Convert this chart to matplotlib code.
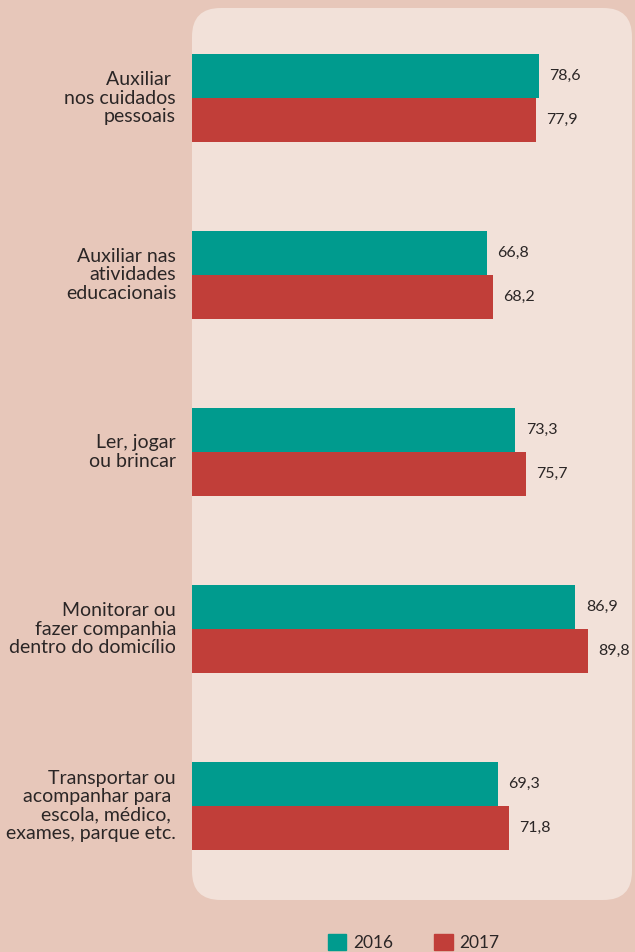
import matplotlib.pyplot as plt
from matplotlib.patches import FancyBboxPatch, Patch

# data
categories = ['Auxiliar \nnos cuidados\npessoais',
              'Auxiliar nas\natividades\neducacionais',
              'Ler, jogar\nou brincar',
              'Monitorar ou\nfazer companhia\ndentro do domicílio',
              'Transportar ou\nacompanhar para \nescola, médico, \nexames, parque etc.']
vals_2016 = [78.6, 66.8, 73.3, 86.9, 69.3]
vals_2017 = [77.9, 68.2, 75.7, 89.8, 71.8]
years = ['2016', '2017']

teal = '#009b8e'
red = '#c13e39'
outer = '#e7c7ba'
inner = '#f2e1d9'
txt = '#2b2626'

plt.rcParams['font.family'] = ['Lato', 'DejaVu Sans']

W, H = 635, 952
fig = plt.figure(figsize=(W / 100, H / 100), dpi=100, facecolor=outer)

# rounded light panel
panel = FancyBboxPatch((192 / W, 1 - 900 / H), (632 - 192) / W, (900 - 8) / H,
                       boxstyle='round,pad=0,rounding_size=0.045',
                       transform=fig.transFigure, facecolor=inner,
                       edgecolor='none', mutation_aspect=W / H, zorder=-1)
fig.patches.append(panel)

x0 = 192
ax = fig.add_axes([x0 / W, 0, 1 - x0 / W, 1])
ax.set_zorder(2)
ax.set_facecolor('none')
scale = 4.41  # px per unit
ax.set_xlim(0, (W - x0) / scale)
step = 177
ax.set_ylim((H - 98) / step, -98 / step)

h = 44 / step
ypos = list(range(len(categories)))
ax.barh([y - h / 2 for y in ypos], vals_2016, height=h, color=teal, label=years[0])
ax.barh([y + h / 2 for y in ypos], vals_2017, height=h, color=red, label=years[1])

for y, a, b in zip(ypos, vals_2016, vals_2017):
    ax.text(a + 2.4, y - h / 2, f'{a:.1f}'.replace('.', ','), va='center',
            ha='left', fontsize=11.5, color=txt)
    ax.text(b + 2.4, y + h / 2, f'{b:.1f}'.replace('.', ','), va='center',
            ha='left', fontsize=11.5, color=txt)
    ax.text(-3.6, y, categories[y], ha='right', va='center', fontsize=14,
            color=txt, linespacing=1.09, clip_on=False)

ax.axis('off')

handles = [Patch(color=teal), Patch(color=red)]
fig.legend(handles, years, loc='upper left', bbox_to_anchor=(312 / W, 1 - 918 / H),
           ncol=2, frameon=False, fontsize=12.5, handlelength=1.05,
           handleheight=1.05, handletextpad=0.4, columnspacing=2.4,
           labelcolor=txt)

fig.savefig('out.png', dpi=100, facecolor=outer)
